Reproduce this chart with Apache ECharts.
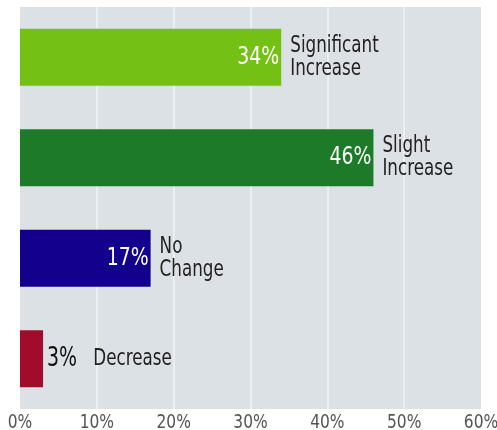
<!DOCTYPE html>
<html>
<head>
<meta charset="utf-8">
<script src="https://cdn.jsdelivr.net/npm/echarts@6/dist/echarts.min.js"></script>
<style>
  html, body { margin: 0; padding: 0; background: #ffffff; }
  #chart { width: 497px; height: 430px; }
</style>
</head>
<body>
<div id="chart"></div>
<script>
// Survey answers, top to bottom
const categories = ['Significant\nIncrease', 'Slight\nIncrease', 'No\nChange', 'Decrease'];
const shares = [34, 46, 17, 3];
const barColors = ['#74c015', '#1c7a28', '#13008c', '#a20c2c'];
const axisTicks = [0, 10, 20, 30, 40, 50, 60];

const FONT = '"DejaVu Sans Condensed", "DejaVu Sans", sans-serif';
const SIZE_AXIS = 20, SIZE_VALUE = 25, SIZE_NAME = 23, SIZE_SMALL_VALUE = 26;
const SMALL_SHARE = 5; // below this the value sits outside the bar

// horizontal squeeze per text size, for a narrow headline look
const squeeze = { [SIZE_AXIS]: 0.86, [SIZE_VALUE]: 0.84, [SIZE_NAME]: 0.81, rich: 0.81 };

const chart = echarts.init(document.getElementById('chart'), null, { renderer: 'canvas' });

// Value labels: white inside the bar end, or dark beside a very short bar
const valueData = shares.map((v, i) => {
  const item = { value: v, itemStyle: { color: barColors[i] } };
  if (v < SMALL_SHARE) {
    item.label = {
      show: true,
      position: 'right',
      distance: 4,
      formatter: '{v|' + v + '%}{n|' + categories[i].replace('\n', ' ') + '}',
      rich: {
        v: { fontFamily: FONT, fontSize: SIZE_SMALL_VALUE, color: '#111111' },
        n: { fontFamily: FONT, fontSize: SIZE_NAME, color: '#222222', padding: [0, 0, 0, 20] }
      }
    };
  }
  return item;
});

// Category names beside the bar end
const nameData = shares.map((v) => ({
  value: v,
  label: { show: v >= SMALL_SHARE }
}));

const option = {
  animation: false,
  backgroundColor: '#ffffff',
  grid: {
    left: 20, right: 16, top: 7, bottom: 21,
    outerBoundsMode: 'none',
    containLabel: false,
    show: true, backgroundColor: '#dbe1e4', borderWidth: 0
  },
  xAxis: {
    type: 'value',
    min: axisTicks[0],
    max: axisTicks[axisTicks.length - 1],
    interval: axisTicks[1] - axisTicks[0],
    axisLine: { show: false },
    axisTick: { show: false },
    axisLabel: {
      formatter: '{value}%',
      color: '#555555',
      fontFamily: FONT,
      fontSize: SIZE_AXIS,
      margin: 4
    },
    splitLine: {
      show: true,
      lineStyle: {
        width: 1.5,
        color: ['transparent', '#f1f3f4', '#f1f3f4', '#f1f3f4', '#f1f3f4', '#f1f3f4', 'transparent']
      }
    }
  },
  yAxis: {
    type: 'category',
    data: categories,
    inverse: true,
    axisLine: { show: false },
    axisTick: { show: false },
    axisLabel: { show: false },
    splitLine: { show: false }
  },
  series: [
    {
      type: 'bar',
      data: valueData,
      barWidth: 57,
      label: {
        show: true,
        position: 'insideRight',
        distance: 2,
        formatter: '{c}%',
        color: '#ffffff',
        fontFamily: FONT,
        fontSize: SIZE_VALUE
      }
    },
    {
      type: 'bar',
      data: nameData,
      barWidth: 57,
      barGap: '-100%',
      silent: true,
      itemStyle: { color: 'transparent' },
      label: {
        position: 'right',
        distance: 9,
        formatter: (p) => categories[p.dataIndex],
        color: '#222222',
        fontFamily: FONT,
        fontSize: SIZE_NAME,
        lineHeight: 23
      }
    }
  ]
};

chart.setOption(option);

// Narrow every text element around its own anchor point
(function condenseText() {
  const zr = chart.getZr();
  const seen = new Set();
  zr.storage.getDisplayList(true).forEach((d) => {
    const t = d.parent;
    if (!t || t.type !== 'text' || seen.has(t)) return;
    seen.add(t);
    const st = t.style || {};
    let size = st.fontSize;
    if (!size && st.font) {
      const m = String(st.font).match(/(\d+(?:\.\d+)?)px/);
      if (m) size = parseFloat(m[1]);
    }
    const k = st.rich ? squeeze.rich : (squeeze[Math.round(size)] || 0.84);
    t.scaleX = k;
    t.markRedraw();
  });
  zr.refreshImmediately();
})();
</script>
</body>
</html>
